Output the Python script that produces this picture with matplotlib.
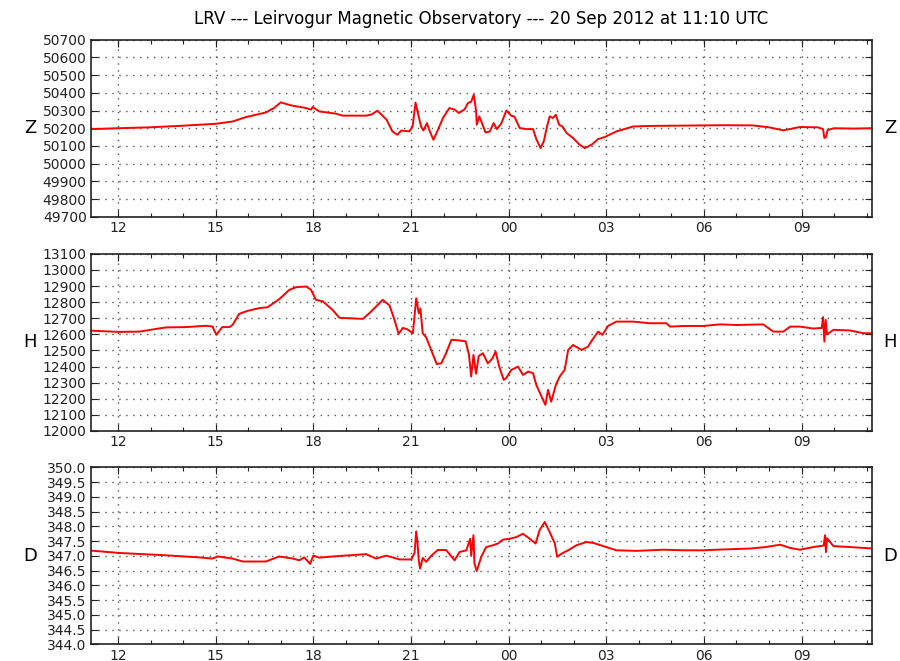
import matplotlib
matplotlib.use('Agg')
import matplotlib.pyplot as plt
from matplotlib.ticker import MultipleLocator, FuncFormatter

# hours counted from 19 Sep 2012 00:00 UTC (24 = 20 Sep 00:00)
T_START, T_END = 11 + 10 / 60, 35 + 10 / 60
TITLE = 'LRV --- Leirvogur Magnetic Observatory --- 20 Sep 2012 at 11:10 UTC'

z_hours = [11.17, 12.0, 12.95, 13.97, 15.0, 15.52, 15.93, 16.54, 16.8, 17.0, 17.2, 17.37,
           17.78, 17.93, 17.98, 18.18, 18.7, 18.9, 19.42, 19.62, 19.78, 19.97, 20.25,
           20.43, 20.58, 20.7, 20.95, 21.05, 21.14, 21.2, 21.31, 21.38, 21.49, 21.57,
           21.69, 21.82, 21.98, 22.18, 22.34, 22.47, 22.65, 22.75, 22.85, 22.93, 23.0,
           23.02, 23.1, 23.29, 23.42, 23.54, 23.64, 23.78, 23.93, 24.08, 24.18, 24.34,
           24.55, 24.75, 24.85, 24.98, 25.08, 25.18, 25.26, 25.36, 25.45, 25.55, 25.65,
           25.78, 25.98, 26.18, 26.34, 26.55, 26.75, 26.95, 27.31, 27.83, 28.34, 29.5,
           30.5, 31.5, 32.0, 32.44, 32.95, 33.5, 33.66, 33.7, 33.75, 33.8, 34.0, 34.6,
           35.17]
z_vals = [50195, 50200, 50205, 50214, 50225, 50238, 50263, 50289, 50315, 50346, 50335, 50327,
          50314, 50305, 50320, 50295, 50282, 50271, 50271, 50271, 50277, 50299, 50248,
          50182, 50163, 50187, 50182, 50210, 50345, 50295, 50210, 50187, 50229, 50187,
          50135, 50187, 50257, 50314, 50305, 50286, 50307, 50342, 50350, 50389, 50299,
          50220, 50267, 50176, 50182, 50229, 50195, 50229, 50300, 50271, 50265, 50201,
          50195, 50195, 50139, 50088, 50126, 50210, 50267, 50258, 50276, 50220, 50210,
          50173, 50145, 50107, 50088, 50107, 50139, 50150, 50182, 50210, 50213, 50215,
          50217, 50216, 50205, 50188, 50207, 50205, 50195, 50145, 50150, 50190, 50200, 50198,
          50200]

h_hours = [11.17, 12.03, 12.65, 13.47, 14.08, 14.7, 14.9, 15.02, 15.2, 15.42, 15.52, 15.72,
           15.98, 16.34, 16.59, 16.95, 17.26, 17.47, 17.78, 17.93, 18.08, 18.29, 18.59,
           18.8, 19.11, 19.52, 19.72, 19.93, 20.13, 20.34, 20.49, 20.62, 20.75, 20.9,
           21.06, 21.16, 21.24, 21.29, 21.36, 21.47, 21.62, 21.79, 21.93, 22.08, 22.24,
           22.49, 22.68, 22.78, 22.85, 22.92, 23.0, 23.08, 23.21, 23.36, 23.5, 23.6,
           23.71, 23.85, 23.93, 24.08, 24.29, 24.44, 24.6, 24.75, 24.85, 25.01, 25.13,
           25.21, 25.31, 25.45, 25.57, 25.72, 25.83, 25.98, 26.24, 26.44, 26.57, 26.75,
           26.88, 27.06, 27.31, 27.83, 28.34, 28.85, 28.96, 29.37, 29.98, 30.49, 31.0,
           31.82, 32.13, 32.44, 32.65, 32.95, 33.36, 33.62, 33.66, 33.7, 33.74, 33.78,
           33.98, 34.49, 34.9, 35.17]
h_vals = [12623, 12615, 12617, 12643, 12645, 12653, 12649, 12597, 12645, 12645, 12659, 12727,
          12746, 12763, 12768, 12818, 12876, 12893, 12897, 12876, 12814, 12805, 12752,
          12703, 12700, 12696, 12731, 12773, 12814, 12780, 12692, 12603, 12640, 12630,
          12607, 12824, 12731, 12760, 12607, 12580, 12503, 12416, 12420, 12483, 12566,
          12562, 12557, 12475, 12338, 12472, 12355, 12465, 12483, 12420, 12450, 12493,
          12400, 12317, 12330, 12379, 12400, 12348, 12369, 12359, 12286, 12214, 12162,
          12255, 12182, 12286, 12338, 12379, 12503, 12534, 12503, 12524, 12566, 12617,
          12597, 12653, 12679, 12679, 12669, 12669, 12648, 12652, 12652, 12662, 12658,
          12662, 12617, 12617, 12648, 12648, 12636, 12640, 12707, 12555, 12690, 12600,
          12628, 12624, 12607, 12607]

d_hours = [11.17, 12.03, 13.47, 14.49, 14.9, 15.06, 15.52, 15.83, 16.54, 16.95, 17.37, 17.57,
           17.72, 17.9, 18.0, 18.18, 18.59, 19.62, 19.93, 20.24, 20.65, 21.01, 21.11,
           21.16, 21.2, 21.24, 21.28, 21.36, 21.47, 21.62, 21.82, 22.08, 22.34, 22.49,
           22.7, 22.82, 22.85, 22.92, 22.95, 23.02, 23.16, 23.31, 23.52, 23.67, 23.82,
           24.03, 24.24, 24.44, 24.65, 24.83, 24.95, 25.11, 25.26, 25.42, 25.49, 25.63,
           25.83, 26.08, 26.39, 26.6, 27.0, 27.31, 27.93, 28.75, 29.37, 29.98, 30.39,
           31.42, 31.9, 32.34, 32.65, 32.95, 33.36, 33.68, 33.72, 33.75, 33.78, 33.98,
           34.49, 35.17]
d_vals = [347.18, 347.10, 347.02, 346.95, 346.91, 346.98, 346.91, 346.81, 346.81, 346.98,
          346.91, 346.85, 346.95, 346.73, 347.01, 346.94, 346.98, 347.06, 346.91, 347.01,
          346.88, 346.88, 347.10, 347.83, 347.45, 346.84, 346.57, 346.93, 346.80, 347.00,
          347.20, 347.20, 346.85, 347.13, 347.19, 347.58, 347.00, 347.70, 346.74, 346.49,
          346.97, 347.30, 347.36, 347.42, 347.55, 347.58, 347.64, 347.75, 347.58, 347.42,
          347.87, 348.15, 347.81, 347.42, 346.97, 347.08, 347.19, 347.36, 347.47, 347.44,
          347.30, 347.19, 347.17, 347.21, 347.19, 347.19, 347.21, 347.25, 347.30, 347.38,
          347.27, 347.21, 347.30, 347.35, 347.70, 347.13, 347.60, 347.33, 347.30, 347.25]

panels = [
    ('Z', z_hours, z_vals, (49700, 50700), 100, '%d'),
    ('H', h_hours, h_vals, (12000, 13100), 100, '%d'),
    ('D', d_hours, d_vals, (344.0, 350.0), 0.5, '%.1f'),
]

# axes boxes in figure fractions (left, bottom, width, height)
boxes = [
    (0.101, 0.672, 0.868, 0.268),
    (0.101, 0.348, 0.868, 0.268),
    (0.101, 0.025, 0.868, 0.268),
]

fig = plt.figure(figsize=(9, 6.61), dpi=100)
fig.patch.set_facecolor('white')

hour_fmt = FuncFormatter(lambda v, pos: '%02d' % (int(round(v)) % 24))

for (name, t, v, ylim, ystep, yfmt), box in zip(panels, boxes):
    ax = fig.add_axes(box)
    ax.plot(t, v, color='red', lw=1.4)
    ax.set_xlim(T_START, T_END)
    ax.set_ylim(*ylim)

    ax.xaxis.set_major_locator(MultipleLocator(3))
    ax.xaxis.set_minor_locator(MultipleLocator(1))
    ax.xaxis.set_major_formatter(hour_fmt)
    ax.yaxis.set_major_locator(MultipleLocator(ystep))
    ax.yaxis.set_major_formatter(FuncFormatter(lambda y, pos, f=yfmt: f % y))

    ax.tick_params(which='both', direction='in', top=True, right=True,
                   labelsize=10, pad=3, colors='#222222')
    ax.tick_params(which='major', length=5, width=0.8)
    ax.tick_params(which='minor', length=3, width=0.8)
    ax.grid(True, which='major', color='#555555', ls=(0, (1, 4)), lw=1.0)
    ax.set_axisbelow(True)
    for sp in ax.spines.values():
        sp.set_linewidth(1.2)
        sp.set_color('#222222')

    ax.text(-0.078, 0.5, name, transform=ax.transAxes, ha='center', va='center',
            fontsize=13)
    ax.text(1.023, 0.5, name, transform=ax.transAxes, ha='center', va='center',
            fontsize=13)

fig.text(0.535, 0.972, TITLE, ha='center', va='center', fontsize=12)

fig.savefig('out.png', dpi=100, facecolor='white')
